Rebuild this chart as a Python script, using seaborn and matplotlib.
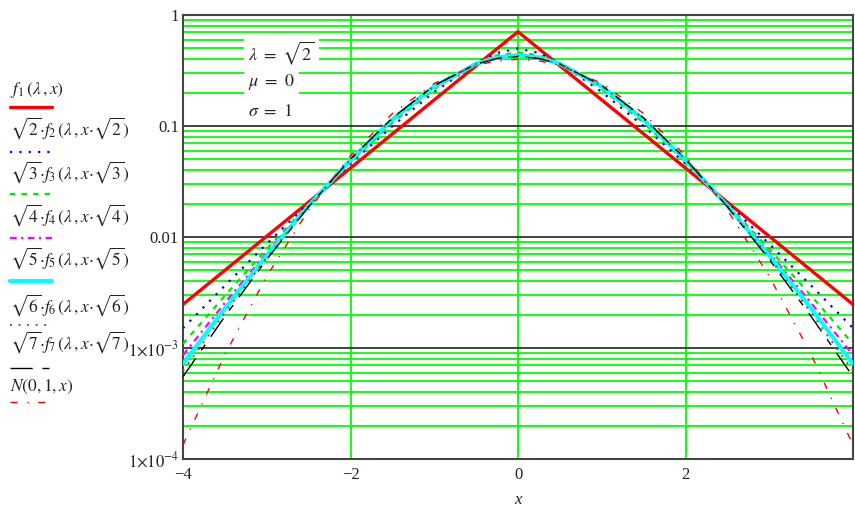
import matplotlib
matplotlib.use("Agg")
import matplotlib.pyplot as plt
from matplotlib.lines import Line2D
from matplotlib.ticker import FixedLocator, LogLocator, NullFormatter
import seaborn as sns

# values (symmetric curves, log y axis)
x_vals = [-4, -3.5, -3, -2.5, -2, -1.5, -1, -0.5, -0.25, 0,
          0.25, 0.5, 1, 1.5, 2, 2.5, 3, 3.5, 4]

f1 = [0.002469, 0.005009, 0.01016, 0.02061, 0.04180, 0.08478, 0.1719, 0.3487, 0.4966, 0.7071,
      0.4966, 0.3487, 0.1719, 0.08478, 0.04180, 0.02061, 0.01016, 0.005009, 0.002469]
f2 = [0.001510, 0.003648, 0.008676, 0.02021, 0.04579, 0.09957, 0.2030, 0.3679, 0.4549, 0.5000,
      0.4549, 0.3679, 0.2030, 0.09957, 0.04579, 0.02021, 0.008676, 0.003648, 0.001510]
f3 = [0.001092, 0.002959, 0.007788, 0.01974, 0.04757, 0.1068, 0.2161, 0.3677, 0.4325, 0.4593,
      0.4325, 0.3677, 0.2161, 0.1068, 0.04757, 0.01974, 0.007788, 0.002959, 0.001092]
f4 = [0.0008633, 0.002546, 0.007210, 0.01938, 0.04865, 0.1114, 0.2230, 0.3656, 0.4207, 0.4419,
      0.4207, 0.3656, 0.2230, 0.1114, 0.04865, 0.01938, 0.007210, 0.002546, 0.0008633]
f5 = [0.0007201, 0.002271, 0.006805, 0.01912, 0.04942, 0.1144, 0.2272, 0.3637, 0.4136, 0.4324,
      0.4136, 0.3637, 0.2272, 0.1144, 0.04942, 0.01912, 0.006805, 0.002271, 0.0007201]
f6 = [0.0006225, 0.002074, 0.006504, 0.01891, 0.04998, 0.1165, 0.2299, 0.3622, 0.4089, 0.4262,
      0.4089, 0.3622, 0.2299, 0.1165, 0.04998, 0.01891, 0.006504, 0.002074, 0.0006225]
f7 = [0.0005521, 0.001926, 0.006271, 0.01876, 0.05041, 0.1182, 0.2318, 0.3610, 0.4056, 0.4220,
      0.4056, 0.3610, 0.2318, 0.1182, 0.05041, 0.01876, 0.006271, 0.001926, 0.0005521]
normal = [0.0001338, 0.0008727, 0.004432, 0.01753, 0.05399, 0.1295, 0.2420, 0.3521, 0.3867, 0.3989,
          0.3867, 0.3521, 0.2420, 0.1295, 0.05399, 0.01753, 0.004432, 0.0008727, 0.0001338]

series_labels = [
    r"$f_{\mathit{1}}\,(\lambda\,,x)$",
    r"$\sqrt{2}{\cdot}f_{\mathit{2}}\,(\lambda\,,x{\cdot}\sqrt{2})$",
    r"$\sqrt{3}{\cdot}f_{\mathit{3}}\,(\lambda\,,x{\cdot}\sqrt{3})$",
    r"$\sqrt{4}{\cdot}f_{\mathit{4}}\,(\lambda\,,x{\cdot}\sqrt{4})$",
    r"$\sqrt{5}{\cdot}f_{\mathit{5}}\,(\lambda\,,x{\cdot}\sqrt{5})$",
    r"$\sqrt{6}{\cdot}f_{\mathit{6}}\,(\lambda\,,x{\cdot}\sqrt{6})$",
    r"$\sqrt{7}{\cdot}f_{\mathit{7}}\,(\lambda\,,x{\cdot}\sqrt{7})$",
    r"$N(0,1,x)$",
]

y_ticks = [1e-4, 1e-3, 1e-2, 1e-1, 1]
y_tick_labels = [r"$1{\times}10^{-4}$", r"$1{\times}10^{-3}$", "0.01", "0.1", "1"]
x_ticks = [-4, -2, 0, 2, 4]
x_tick_labels = ["\u22124", "\u22122", "0", "2", ""]  # the "4" falls off the right edge

params_text = [r"$\lambda\ =\ \sqrt{2}$", r"$\mu\ =\ 0$", r"$\sigma\ =\ 1$"]

# line styles: (color, linewidth, linestyle)
styles = [
    ("#ff0000", 2.4, "-"),
    ("#0000ff", 1.6, (0, (1, 3.2))),
    ("#00e600", 1.6, (0, (2.4, 2.8))),
    ("#ff00ff", 1.6, (0, (3, 2, 1, 2))),
    ("#00ffff", 3.0, "-"),
    ("#8b5a2b", 1.4, (0, (1, 3.4))),
    ("#000000", 1.0, (0, (16, 7, 5, 7))),
    ("#ff0000", 1.0, (0, (5, 7, 1, 7))),
]

sns.set_theme(style="white")
plt.rcParams["font.family"] = ["Liberation Serif", "DejaVu Serif"]
plt.rcParams["mathtext.fontset"] = "stix"

W, H = 855, 507
fig = plt.figure(figsize=(W / 100, H / 100), dpi=100)
ax = fig.add_axes([183 / W, 1 - 459 / H, (853 - 183) / W, (459 - 15) / H])

data_series = [f1, f2, f3, f4, f5, f6, f7, normal]
for vals, (col, lw, ls) in zip(data_series, styles):
    sns.lineplot(x=x_vals, y=vals, ax=ax, color=col, lw=lw, linestyle=ls,
                 estimator=None, errorbar=None, zorder=3)

ax.set_yscale("log")
ax.set_ylim(1e-4, 1)
ax.set_xlim(-4, 3.976)

ax.yaxis.set_major_locator(FixedLocator(y_ticks))
ax.set_yticklabels(y_tick_labels)
ax.yaxis.set_minor_locator(LogLocator(base=10, subs=[2, 3, 4, 5, 6, 7, 8, 9]))
ax.yaxis.set_minor_formatter(NullFormatter())
ax.set_xticks(x_ticks)
ax.set_xticklabels(x_tick_labels)

ax.grid(False)
ax.grid(True, which="major", axis="y", color="#222222", lw=1.2, zorder=1)
ax.grid(True, which="minor", axis="y", color="#00ff00", lw=1.3, zorder=1)
ax.grid(True, which="major", axis="x", color="#00ff00", lw=1.3, zorder=1)
ax.set_axisbelow(True)

ax.tick_params(axis="both", which="both", length=0, labelsize=12, colors="#222222")
ax.tick_params(axis="y", pad=3)
ax.tick_params(axis="x", pad=6)
for sp in ax.spines.values():
    sp.set_color("#444444")
    sp.set_linewidth(1.5)

ax.set_xlabel("x", fontsize=12, style="italic", color="#222222", labelpad=6)
ax.set_ylabel("")

# parameter box in the upper left of the plot (pixel positions from the top)
for txt, py in zip(params_text, [53, 82, 112]):
    ax.text(248 / W, 1 - py / H, txt, transform=fig.transFigure, fontsize=13,
            color="#222222", va="center", ha="left", zorder=5,
            bbox=dict(facecolor="white", edgecolor="none", pad=3))

# legend on the left, label above its line sample
label_y = [90, 128, 172, 215, 258, 305, 342, 387]
line_y = [107, 152, 194, 238, 281, 325, 368, 402]
for lab, ty, ly, (col, lw, ls) in zip(series_labels, label_y, line_y, styles):
    fig.text(10 / W, 1 - ty / H, lab, fontsize=12.5, color="#222222",
             va="center", ha="left")
    fig.add_artist(Line2D([10 / W, 52 / W], [1 - ly / H, 1 - ly / H],
                          transform=fig.transFigure, color=col, lw=lw, linestyle=ls))

fig.savefig("out.png", dpi=100)
